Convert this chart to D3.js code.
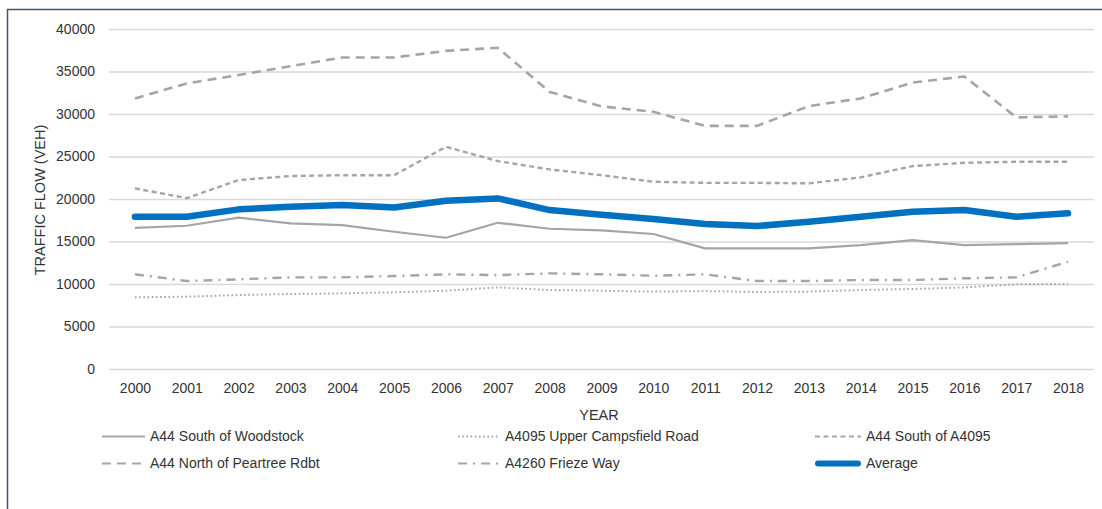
<!DOCTYPE html>
<html>
<head>
<meta charset="utf-8">
<script src="https://cdn.jsdelivr.net/npm/d3@7/dist/d3.min.js"></script>
<style>
  html, body { margin: 0; padding: 0; background: #fff; }
  svg { display: block; font-family: "Liberation Sans", Arial, sans-serif; }
</style>
</head>
<body>
<svg id="chart" width="1102" height="509"></svg>
<script>
const years = ["2000","2001","2002","2003","2004","2005","2006","2007","2008","2009","2010","2011","2012","2013","2014","2015","2016","2017","2018"];
const yTicks = [0, 5000, 10000, 15000, 20000, 25000, 30000, 35000, 40000];

const seriesNames = ["A44 South of Woodstock", "A4095 Upper Campsfield Road", "A44 South of A4095", "A44 North of Peartree Rdbt", "A4260 Frieze Way", "Average"];

const woodstock = [16600,16850,17800,17130,16930,16150,15440,17200,16500,16310,15880,14190,14190,14190,14580,15170,14580,14700,14820];
const campsfield = [8430,8510,8700,8820,8900,9020,9210,9600,9290,9210,9100,9170,9060,9100,9290,9410,9600,9960,9960];
const southA4095 = [21250,20100,22230,22700,22800,22800,26140,24460,23480,22800,22030,21900,21900,21840,22550,23870,24260,24380,24380];
const peartree = [31830,33600,34580,35630,36650,36650,37430,37790,32600,30900,30260,28600,28600,30930,31830,33700,34420,29600,29720];
const frieze = [11140,10350,10550,10780,10780,10940,11140,11050,11250,11140,10970,11140,10350,10350,10470,10470,10670,10780,12620];
const average = [17910,17910,18780,19090,19290,19010,19800,20070,18700,18150,17640,17050,16820,17320,17910,18500,18700,17910,18310];

const seriesValues = [woodstock, campsfield, southA4095, peartree, frieze, average];

const styles = [
  { color: "#A5A5A5", width: 2.2, dash: null },
  { color: "#A5A5A5", width: 2, dash: "1.6,2.6" },
  { color: "#A5A5A5", width: 2.4, dash: "5,3.5" },
  { color: "#A5A5A5", width: 2.6, dash: "9,6" },
  { color: "#A5A5A5", width: 2.4, dash: "9,6,2,6" },
  { color: "#0070C0", width: 6.5, dash: null }
];

const textColor = "#333333";
const svg = d3.select("#chart");

// outer frame
svg.append("rect")
  .attr("x", 7.5).attr("y", 9.5)
  .attr("width", 1200).attr("height", 600)
  .attr("fill", "#fff")
  .attr("stroke", "#44546A").attr("stroke-width", 1.5);

const x = d3.scalePoint().domain(years).range([109, 1094]).padding(0.5);
const y = d3.scaleLinear().domain([0, 40000]).range([369, 29]);

// gridlines
const grid = svg.append("g")
  .attr("transform", "translate(109,0)")
  .call(d3.axisLeft(y).tickValues(yTicks).tickSize(-(1094 - 109)).tickFormat(""));
grid.select(".domain").remove();
grid.selectAll("line").attr("stroke", "#D9D9D9").attr("stroke-width", 1.3);

// y axis labels
const yAxis = svg.append("g")
  .attr("transform", "translate(95,0)")
  .call(d3.axisLeft(y).tickValues(yTicks).tickSize(0).tickPadding(0).tickFormat(d3.format("d")));
yAxis.select(".domain").remove();
yAxis.selectAll("text").attr("font-size", 14).attr("fill", textColor)
  .attr("font-family", "Liberation Sans, Arial, sans-serif");

// x axis labels
const xAxis = svg.append("g")
  .attr("transform", "translate(0,383)")
  .call(d3.axisBottom(x).tickSize(0).tickPadding(0));
xAxis.select(".domain").remove();
xAxis.selectAll("text").attr("font-size", 14).attr("fill", textColor)
  .attr("font-family", "Liberation Sans, Arial, sans-serif");

// axis titles
svg.append("text")
  .attr("transform", "translate(45,200) rotate(-90)")
  .attr("text-anchor", "middle")
  .attr("font-size", 14.5).attr("fill", textColor)
  .text("TRAFFIC FLOW (VEH)");
svg.append("text")
  .attr("x", 599).attr("y", 420)
  .attr("text-anchor", "middle")
  .attr("font-size", 14.5).attr("fill", textColor)
  .text("YEAR");

// lines
const line = d3.line()
  .x((d, i) => x(years[i]))
  .y(d => y(d));

seriesValues.forEach((vals, i) => {
  const st = styles[i];
  svg.append("path")
    .datum(vals)
    .attr("d", line)
    .attr("fill", "none")
    .attr("stroke", st.color)
    .attr("stroke-width", st.width)
    .attr("stroke-dasharray", st.dash)
    .attr("stroke-linejoin", "round")
    .attr("stroke-linecap", i === 5 ? "round" : "butt");
});

// legend
const legCols = [102, 458, 815];
const legRows = [436.5, 463.5];
const sampleLen = [43, 42, 46];
seriesNames.forEach((name, i) => {
  const col = i % 3, row = Math.floor(i / 3);
  const st = styles[i];
  const g = svg.append("g").attr("transform", `translate(${legCols[col]},${legRows[row]})`);
  const isAvg = i === 5;
  g.append("line")
    .attr("x1", isAvg ? 3 : 0).attr("x2", sampleLen[col] - (isAvg ? 3 : 0))
    .attr("y1", 0).attr("y2", 0)
    .attr("stroke", st.color)
    .attr("stroke-width", isAvg ? 6 : Math.min(st.width, 2.2))
    .attr("stroke-dasharray", st.dash)
    .attr("stroke-linecap", isAvg ? "round" : "butt");
  g.append("text")
    .attr("x", sampleLen[col] + 5).attr("y", 0)
    .attr("dy", "0.35em")
    .attr("font-size", 14).attr("fill", textColor)
    .text(name);
});
</script>
</body>
</html>
